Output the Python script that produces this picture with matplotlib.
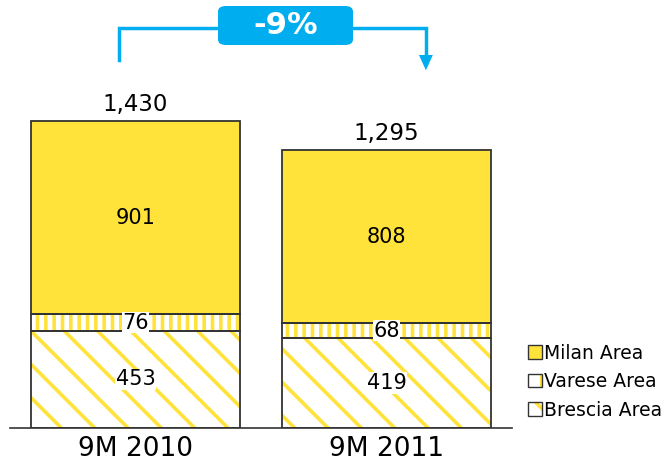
import matplotlib
matplotlib.use("Agg")
import matplotlib.pyplot as plt
from matplotlib.patches import Patch, FancyBboxPatch
from matplotlib.legend_handler import HandlerTuple

periods = ["9M 2010", "9M 2011"]
milan = [901, 808]
varese = [76, 68]
brescia = [453, 419]
totals = ["1,430", "1,295"]
change_label = "-9%"

yellow = "#FFE33B"
edge = "#333333"
blue = "#00AEEF"

plt.rcParams["hatch.linewidth"] = 2.6
plt.rcParams["font.family"] = "DejaVu Sans"

fig = plt.figure(figsize=(6.67, 4.61), dpi=100)
ax = fig.add_axes([10 / 667, 33 / 461, 502 / 667, 408 / 461])

x = list(range(len(periods)))
w = 0.833
bottom_m = [b + v for b, v in zip(brescia, varese)]

# hatched fills (yellow lines), then outlines on top
ax.bar(x, brescia, w, color="white", edgecolor=yellow, hatch="\\", linewidth=0)
ax.bar(x, varese, w, bottom=brescia, color="white", edgecolor=yellow, hatch="||", linewidth=0)
ax.bar(x, milan, w, bottom=bottom_m, color=yellow, linewidth=0)
for seg, bot in [(brescia, None), (varese, brescia), (milan, bottom_m)]:
    ax.bar(x, seg, w, bottom=bot, fill=False, edgecolor=edge, linewidth=1.3)

for i in x:
    ax.text(i, brescia[i] / 2, str(brescia[i]), ha="center", va="center", fontsize=15,
            bbox=dict(facecolor="white", edgecolor="none", pad=0.5))
    ax.text(i, brescia[i] + varese[i] / 2, str(varese[i]), ha="center", va="center", fontsize=15,
            bbox=dict(facecolor="white", edgecolor="none", pad=0.5))
    ax.text(i, bottom_m[i] + milan[i] / 2, str(milan[i]), ha="center", va="center", fontsize=15)
    total = brescia[i] + varese[i] + milan[i]
    ax.text(i, total + 25, totals[i], ha="center", va="bottom", fontsize=16.5)

ax.set_xlim(-0.5, 1.5)
ax.set_ylim(0, 1900)
ax.set_xticks(x)
ax.set_xticklabels(periods, fontsize=19)
ax.tick_params(axis="x", length=0, pad=6)
ax.set_yticks([])
for s in ["top", "right", "left"]:
    ax.spines[s].set_visible(False)
ax.spines["bottom"].set_color(edge)
ax.spines["bottom"].set_linewidth(1.2)

# change bracket
ax.plot([-0.066, -0.066, 1.157, 1.157], [1714, 1863, 1863, 1700], color=blue, lw=2.5,
        clip_on=False, solid_joinstyle="miter")
ax.annotate("", xy=(1.157, 1653), xytext=(1.157, 1730),
            arrowprops=dict(arrowstyle="-|>,head_width=0.5,head_length=1.1", color=blue, lw=0),
            annotation_clip=False)
box = FancyBboxPatch((218 / 667, (461 - 45) / 461), 135 / 667, 39 / 461,
                     boxstyle="round,pad=0,rounding_size=0.012", transform=fig.transFigure,
                     facecolor=blue, edgecolor="none")
fig.patches.append(box)
fig.text(286 / 667, (461 - 26) / 461, change_label, ha="center", va="center", color="white",
         fontsize=22, fontweight="bold")

handles = [
    (Patch(facecolor=yellow, edgecolor=edge, linewidth=1),),
    (Patch(facecolor="white", edgecolor=yellow, hatch="|", linewidth=0),
     Patch(fill=False, edgecolor=edge, linewidth=1)),
    (Patch(facecolor="white", edgecolor=yellow, hatch="\\", linewidth=0),
     Patch(fill=False, edgecolor=edge, linewidth=1)),
]
fig.legend(handles, ["Milan Area", "Varese Area", "Brescia Area"],
           handler_map={tuple: HandlerTuple(ndivide=1, pad=0)},
           loc="lower left", bbox_to_anchor=(520 / 667, 34 / 461), frameon=False,
           fontsize=13.5, handlelength=0.75, handleheight=0.75, handletextpad=0.15,
           labelspacing=0.5, borderaxespad=0)

fig.savefig("out.png", dpi=100)
